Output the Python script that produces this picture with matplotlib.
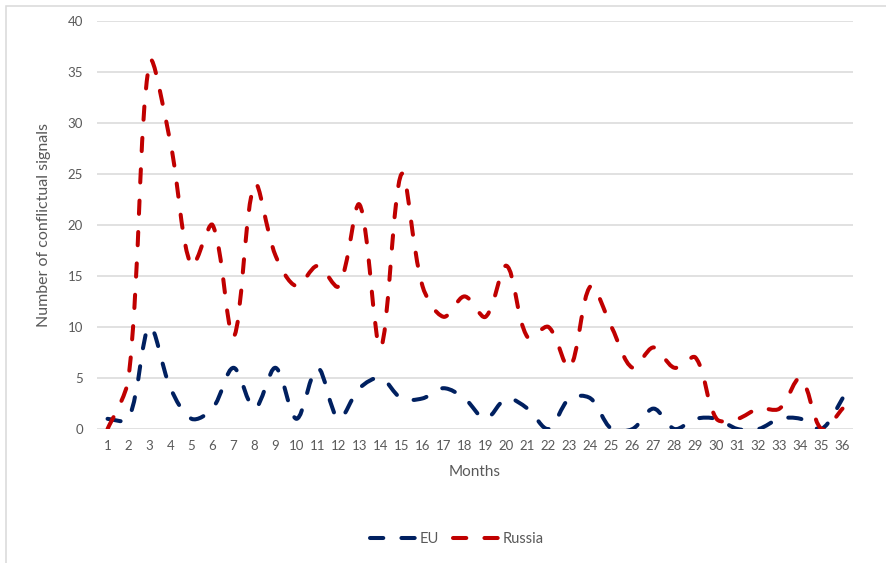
import math
import matplotlib.pyplot as plt
from matplotlib.path import Path
from matplotlib.patches import PathPatch, Rectangle
from matplotlib.lines import Line2D

plt.rcParams['font.family'] = ['Lato', 'DejaVu Sans']

months = list(range(1, 37))
eu = [1, 1, 10, 4, 1, 2, 6, 2, 6, 1, 6, 1, 4, 5, 3, 3, 4, 3,
      1, 3, 2, 0, 3, 3, 0, 0, 2, 0, 1, 1, 0, 0, 1, 1, 0, 3]
russia = [0, 5, 36, 28, 16, 20, 9, 24, 17, 14, 16, 14, 22, 8, 25, 14, 11, 13,
          11, 16, 9, 10, 6, 14, 10, 6, 8, 6, 7, 1, 1, 2, 2, 5, 0, 2]

EU_COLOR = '#002060'
RU_COLOR = '#C00000'
TEXT = '#595959'
LW = 2.9
DASH = (0, (3.3, 4.5))

# pixel size of one unit on each axis, used to weight the smoothing
SX, SY = 21.03, 10.2


def smooth_path(xs, ys, t=1 / 3):
    # bezier segments similar to Excel's "smoothed line"
    pts = [(x * SX, y * SY) for x, y in zip(xs, ys)]
    n = len(pts)

    def dist(a, b):
        return math.hypot(b[0] - a[0], b[1] - a[1])

    c_in, c_out = [None] * n, [None] * n
    for i in range(n):
        prv = pts[i - 1] if i > 0 else pts[i]
        nxt = pts[i + 1] if i < n - 1 else pts[i]
        tx, ty = nxt[0] - prv[0], nxt[1] - prv[1]
        dp, dn = dist(prv, pts[i]), dist(pts[i], nxt)
        tot = dp + dn if dp + dn > 0 else 1
        if i == 0 or i == n - 1:
            fin = fout = t / 2
        else:
            fin, fout = t * dp / tot, t * dn / tot
        c_in[i] = (pts[i][0] - tx * fin, pts[i][1] - ty * fin)
        c_out[i] = (pts[i][0] + tx * fout, pts[i][1] + ty * fout)

    verts = [pts[0]]
    codes = [Path.MOVETO]
    for i in range(n - 1):
        verts += [c_out[i], c_in[i + 1], pts[i + 1]]
        codes += [Path.CURVE4] * 3
    verts = [(x / SX, y / SY) for x, y in verts]
    return Path(verts, codes)


fig = plt.figure(figsize=(8.87, 5.63), dpi=100)
ax = fig.add_axes([0.1094, 0.238, 0.8523, 0.7247])

for ys, col in [(eu, EU_COLOR), (russia, RU_COLOR)]:
    patch = PathPatch(smooth_path(months, ys), facecolor='none', edgecolor=col,
                      lw=LW, linestyle=DASH, capstyle='round', joinstyle='round',
                      zorder=3)
    ax.add_patch(patch)

ax.set_xlim(0.5, 36.5)
ax.set_ylim(0, 40)
ax.set_xticks(months)
ax.set_yticks(range(0, 41, 5))
ax.grid(axis='y', color='#d9d9d9', lw=1.1)
ax.set_axisbelow(True)
for s in ax.spines.values():
    s.set_visible(False)
ax.tick_params(length=0, colors=TEXT, labelsize=9.5)
ax.tick_params(axis='x', pad=8)
ax.tick_params(axis='y', pad=10)
ax.set_xlabel('Months', color=TEXT, fontsize=11, labelpad=9)
ax.set_ylabel('Number of conflictual signals', color=TEXT, fontsize=11.5, labelpad=12)

handles = [Line2D([], [], color=EU_COLOR, lw=LW, linestyle=DASH, dash_capstyle='round'),
           Line2D([], [], color=RU_COLOR, lw=LW, linestyle=DASH, dash_capstyle='round')]
fig.legend(handles, ['EU', 'Russia'], loc='center', bbox_to_anchor=(0.515, 0.043),
           ncol=2, frameon=False, fontsize=10.5, labelcolor=TEXT, handlelength=3.1,
           handletextpad=0.3, columnspacing=1.0)

fig.patches.append(Rectangle((6 / 887, -0.1), 1.2, 1 - 6 / 563 + 0.1,
                             transform=fig.transFigure, fill=False,
                             edgecolor='#d9d9d9', lw=1.1))

fig.savefig('out.png', dpi=100)
